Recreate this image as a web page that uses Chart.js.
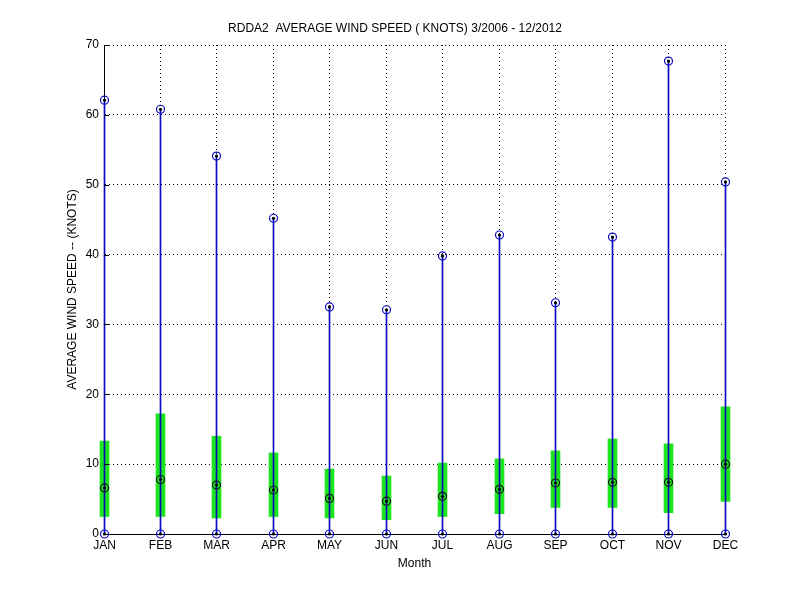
<!DOCTYPE html>
<html><head><meta charset="utf-8">
<script src="https://cdn.jsdelivr.net/npm/chart.js@4"></script>
<style>html,body{margin:0;padding:0;background:#fff;}canvas{display:block;}</style>
</head><body>
<canvas id="c" width="800" height="600"></canvas>
<script>
const months = ['JAN','FEB','MAR','APR','MAY','JUN','JUL','AUG','SEP','OCT','NOV','DEC'];
const maxSpeed = [62.1, 60.8, 54.1, 45.2, 32.5, 32.1, 39.8, 42.8, 33.1, 42.5, 67.7, 50.4];
const minSpeed = [0, 0, 0, 0, 0, 0, 0, 0, 0, 0, 0, 0];
const meanSpeed = [6.6, 7.8, 7.0, 6.3, 5.1, 4.7, 5.4, 6.4, 7.3, 7.4, 7.4, 10.0];
const boxLow = [2.5, 2.5, 2.3, 2.5, 2.3, 2.05, 2.5, 2.9, 3.8, 3.8, 3.05, 4.65];
const boxHigh = [13.3, 17.2, 14.0, 11.6, 9.3, 8.3, 10.15, 10.75, 11.9, 13.6, 12.9, 18.2];
const yTicks = [0, 10, 20, 30, 40, 50, 60, 70];

const BLUE = '#0a0ac0';
const GREEN = '#1ee61e';
const FONT = "'Liberation Sans', Arial, sans-serif";

const pts = arr => arr.map((v, i) => ({x: i + 1, y: v}));

const gridAndTicks = {
  id: 'gridAndTicks',
  beforeDatasetsDraw(chart) {
    const {ctx, chartArea: a, scales: {x}} = chart;
    ctx.save();
    ctx.strokeStyle = '#000';
    ctx.lineWidth = 1;
    ctx.setLineDash([1, 3]);
    months.forEach((m, i) => {
      const px = Math.floor(x.getPixelForValue(i + 1)) + 0.5;
      ctx.beginPath();
      ctx.moveTo(px, a.top); ctx.lineTo(px, a.bottom);
      ctx.stroke();
    });
    ctx.restore();
  },
  afterDatasetsDraw(chart) {
    const {ctx, chartArea: a, scales: {y}} = chart;
    ctx.save();
    ctx.strokeStyle = '#000';
    ctx.lineWidth = 1;
    ctx.beginPath();
    yTicks.forEach(v => {
      const py = Math.round(y.getPixelForValue(v)) + 0.5;
      ctx.moveTo(a.left, py); ctx.lineTo(a.left + 5, py);
    });
    ctx.stroke();
    ctx.restore();
  }
};

new Chart(document.getElementById('c'), {
  type: 'bar',
  data: {
    datasets: [
      {type: 'bar', data: months.map((m, i) => ({x: i + 1, y: [boxLow[i], boxHigh[i]]})),
       backgroundColor: GREEN, borderWidth: 0, barThickness: 9, grouped: false, order: 10, clip: false},
      {type: 'bar', data: months.map((m, i) => ({x: i + 1, y: [minSpeed[i], maxSpeed[i]]})),
       backgroundColor: BLUE, borderWidth: 0, barThickness: 1, grouped: false, order: 9, clip: false},
      {type: 'scatter', data: pts(maxSpeed), pointStyle: 'circle', pointRadius: 4,
       borderColor: BLUE, backgroundColor: 'rgba(0,0,0,0)', borderWidth: 1.2, order: 3, clip: false},
      {type: 'scatter', data: pts(minSpeed), pointStyle: 'circle', pointRadius: 4,
       borderColor: BLUE, backgroundColor: 'rgba(0,0,0,0)', borderWidth: 1.2, order: 3, clip: false},
      {type: 'scatter', data: pts(meanSpeed), pointStyle: 'circle', pointRadius: 4,
       borderColor: '#111', backgroundColor: 'rgba(0,0,0,0)', borderWidth: 1.2, order: 2, clip: false},
      {type: 'scatter', data: pts(maxSpeed).concat(pts(minSpeed), pts(meanSpeed)), pointStyle: 'circle', pointRadius: 1.6,
       borderWidth: 0, backgroundColor: '#000', order: 1, clip: false}
    ]
  },
  options: {
    responsive: false,
    animation: false,
    events: [],
    layout: {padding: {left: 65, right: 75, top: 0, bottom: 29}},
    plugins: {
      legend: {display: false},
      tooltip: {enabled: false},
      title: {display: true, text: 'RDDA2  AVERAGE WIND SPEED ( KNOTS) 3/2006 - 12/2012',
        color: '#000', font: {family: FONT, size: 12, weight: 'normal', lineHeight: 1.2},
        padding: {top: 21, bottom: 9.6}}
    },
    scales: {
      x: {
        type: 'linear', min: 1, max: 12, offset: false,
        afterFit(s) {
          s.height = 37;
          s.paddingLeft = 0;
          s.paddingRight = 0;
          if (!s._snapped) {
            const orig = s.getPixelForValue;
            s.getPixelForValue = function (v, idx) {
              const p = orig.call(this, v, idx);
              return isNaN(p) ? p : Math.floor(p) + 0.5;
            };
            s._snapped = true;
          }
        },
        ticks: {stepSize: 1, autoSkip: false, maxRotation: 0, padding: 4, color: '#000',
          font: {family: FONT, size: 12},
          callback: v => months[v - 1] || ''},
        grid: {display: true, drawTicks: false, color: 'rgba(0,0,0,0)', lineWidth: 1, offset: false},
        border: {display: true, color: '#000', width: 1},
        title: {display: true, text: 'Month', color: '#000', font: {family: FONT, size: 12, lineHeight: 1.2}, padding: 0}
      },
      y: {
        type: 'linear', min: 0, max: 70,
        afterFit(s) { s.width = 39; s.paddingTop = 0; s.paddingBottom = 0; },
        ticks: {stepSize: 10, padding: 5, color: '#000', font: {family: FONT, size: 12}},
        grid: {display: true, drawTicks: false, color: '#000', lineWidth: 1},
        border: {display: true, color: '#000', width: 1, dash: [1, 3]},
        title: {display: true, text: 'AVERAGE WIND SPEED -- (KNOTS)', color: '#000', font: {family: FONT, size: 12, lineHeight: 1.2}, padding: 0}
      }
    }
  },
  plugins: [gridAndTicks]
});
</script>
</body></html>
